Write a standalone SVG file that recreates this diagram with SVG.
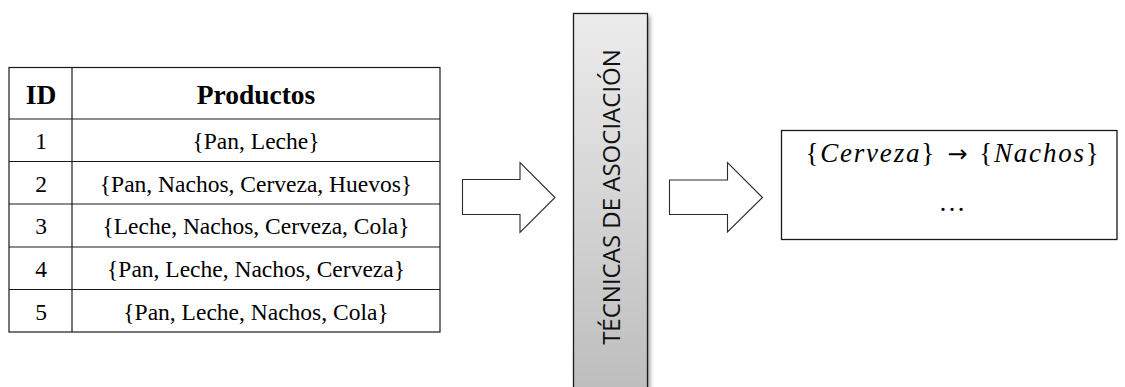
<svg xmlns="http://www.w3.org/2000/svg" width="1125" height="387" viewBox="0 0 1125 387">
  <defs>
    <linearGradient id="barFill" x1="0" y1="0" x2="0" y2="1">
      <stop offset="0" stop-color="#ececec"/>
      <stop offset="1" stop-color="#bcbcbc"/>
    </linearGradient>
    <filter id="softShadow" x="-20%" y="-5%" width="140%" height="110%">
      <feGaussianBlur stdDeviation="2"/>
    </filter>
    <style>
      .grid { stroke: #1a1a1a; stroke-width: 1.2; fill: none; }
      .head { font-family: 'Liberation Serif', 'Times New Roman', serif; font-weight: bold; font-size: 27.5px; fill: #000; text-anchor: middle; }
      .cell { font-family: 'Liberation Serif', 'Times New Roman', serif; font-size: 23.5px; fill: #000; text-anchor: middle; }
      .block-arrow { fill: #fff; stroke: #2a2a2a; stroke-width: 1.1; stroke-linejoin: miter; }
      .bar-label { font-family: 'Open Sans', sans-serif; font-size: 24px; fill: #111; text-anchor: middle; }
      .rule { font-family: 'Liberation Serif', 'Times New Roman', serif; font-size: 27px; fill: #000; text-anchor: middle; letter-spacing: 1.8px; }
      .implies { font-family: 'DejaVu Sans', sans-serif; font-size: 24px; letter-spacing: 0; }
    </style>
  </defs>

  <rect width="1125" height="387" fill="#fff"/>

  <!-- transaction table -->
  <g id="transactions">
    <rect class="grid" x="9" y="67.5" width="431" height="264.5"/>
    <line class="grid" x1="72" y1="67.5" x2="72" y2="332"/>
    <line class="grid" x1="9" y1="119" x2="440" y2="119"/>
    <line class="grid" x1="9" y1="161.5" x2="440" y2="161.5"/>
    <line class="grid" x1="9" y1="204" x2="440" y2="204"/>
    <line class="grid" x1="9" y1="247" x2="440" y2="247"/>
    <line class="grid" x1="9" y1="289.5" x2="440" y2="289.5"/>
    <text class="head" x="41" y="104">ID</text>
    <text class="head" x="256" y="104">Productos</text>
    <text class="cell" x="41" y="149">1</text>
    <text class="cell" x="256" y="149">{Pan, Leche}</text>
    <text class="cell" x="41" y="191.5">2</text>
    <text class="cell" x="256" y="191.5">{Pan, Nachos, Cerveza, Huevos}</text>
    <text class="cell" x="41" y="234">3</text>
    <text class="cell" x="256" y="234">{Leche, Nachos, Cerveza, Cola}</text>
    <text class="cell" x="41" y="277">4</text>
    <text class="cell" x="256" y="277">{Pan, Leche, Nachos, Cerveza}</text>
    <text class="cell" x="41" y="319.5">5</text>
    <text class="cell" x="256" y="319.5">{Pan, Leche, Nachos, Cola}</text>
  </g>

  <!-- association technique bar -->
  <g id="techniques">
    <rect x="576" y="16" width="74" height="390" fill="#9a9a9a" filter="url(#softShadow)"/>
    <rect x="573.5" y="13.5" width="74" height="390" fill="url(#barFill)" stroke="#1a1a1a" stroke-width="1.3"/>
    <text class="bar-label" transform="translate(619.5 197) rotate(-90)">TÉCNICAS DE ASOCIACIÓN</text>
  </g>

  <!-- resulting rules -->
  <g id="rules">
    <rect x="781.5" y="130.5" width="335.5" height="109" fill="#fff" stroke="#1a1a1a" stroke-width="1.3"/>
    <text class="rule" x="953" y="162">{<tspan font-style="italic">Cerveza</tspan>} <tspan class="implies" dx="3">→</tspan><tspan dx="3"> {</tspan><tspan font-style="italic">Nachos</tspan>}</text>
    <text class="rule" x="953" y="211" font-size="22px" letter-spacing="0">…</text>
  </g>

  <!-- connectors -->
  <g id="connectors">
    <path class="block-arrow" d="M462.5 179.5 H520 V162.5 L555 197.5 L520 232.5 V214.5 H462.5 Z"/>
    <path class="block-arrow" d="M669.5 180 H727.5 V162.5 L762.5 197.5 L727.5 232 V214.5 H669.5 Z"/>
  </g>
</svg>
